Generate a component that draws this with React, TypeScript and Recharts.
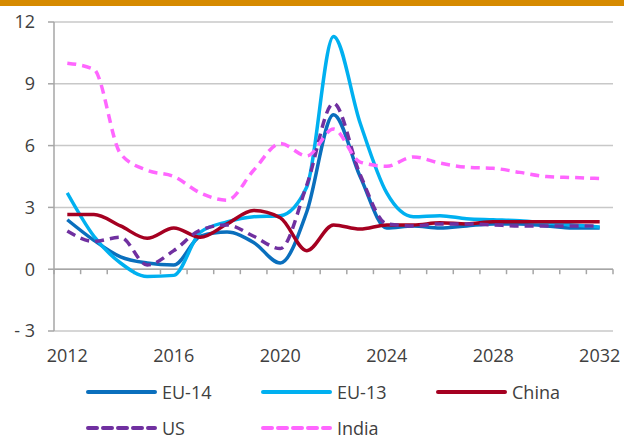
import { LineChart, Line, XAxis, YAxis, CartesianGrid, ReferenceLine } from "recharts";

const years = [2012, 2013, 2014, 2015, 2016, 2017, 2018, 2019, 2020, 2021, 2022, 2023, 2024, 2025, 2026, 2027, 2028, 2029, 2030, 2031, 2032];

const eu14 = [2.4, 1.4, 0.6, 0.3, 0.2, 1.6, 1.8, 1.3, 0.3, 2.8, 7.5, 4.5, 2.0, 2.1, 2.0, 2.1, 2.2, 2.2, 2.1, 2.0, 2.0];
const eu13 = [3.7, 1.6, 0.3, -0.35, -0.3, 1.8, 2.3, 2.55, 2.6, 4.0, 11.3, 7.1, 3.7, 2.55, 2.6, 2.45, 2.4, 2.35, 2.25, 2.15, 2.05];
const china = [2.65, 2.65, 2.1, 1.5, 2.0, 1.55, 2.2, 2.85, 2.5, 0.9, 2.15, 1.95, 2.15, 2.15, 2.25, 2.2, 2.3, 2.3, 2.3, 2.3, 2.3];
const us = [1.85, 1.35, 1.55, 0.2, 0.9, 1.9, 2.15, 1.6, 1.0, 4.1, 8.05, 4.6, 2.2, 2.1, 2.2, 2.2, 2.15, 2.1, 2.1, 2.1, 2.1];
const india = [10.0, 9.7, 5.6, 4.8, 4.5, 3.7, 3.35, 4.8, 6.1, 5.5, 6.8, 5.2, 5.0, 5.45, 5.15, 4.95, 4.9, 4.7, 4.5, 4.45, 4.4];

const yTicks = [-3, 0, 3, 6, 9, 12];

const series = [
  { key: "eu14", name: "EU-14", color: "#0A6FBD", dash: undefined as string | undefined },
  { key: "eu13", name: "EU-13", color: "#00B0F0", dash: undefined as string | undefined },
  { key: "china", name: "China", color: "#A50021", dash: undefined as string | undefined },
  { key: "us", name: "US", color: "#7030A0", dash: "9 6" },
  { key: "india", name: "India", color: "#FF66FF", dash: "9 6" },
];

const data = years.map((year, i) => ({
  year,
  eu14: eu14[i],
  eu13: eu13[i],
  china: china[i],
  us: us[i],
  india: india[i],
}));

const font = "'Open Sans', sans-serif";
const textColor = "#404040";

// axis line at zero with tick marks between categories (Excel style)
const ZeroAxis = (props: any) => {
  const { x1, y1, x2 } = props;
  const n = years.length;
  const step = (x2 - x1) / n;
  const marks = [];
  for (let k = 0; k <= n; k++) {
    const x = x1 + k * step;
    marks.push(<line key={k} x1={x} x2={x} y1={y1} y2={y1 + 5} stroke="#A6A6A6" strokeWidth={1.5} />);
  }
  return (
    <g>
      <line x1={x1} x2={x2} y1={y1} y2={y1} stroke="#A6A6A6" strokeWidth={1.5} />
      {marks}
    </g>
  );
};

const LegendBox = () => (
  <div style={{ position: "absolute", left: 86, top: 380, width: 540, fontFamily: font, fontSize: 18, color: textColor }}>
    {series.map((s, i) => (
      <div
        key={s.key}
        style={{
          position: "absolute",
          left: (i % 3) * 175,
          top: Math.floor(i / 3) * 36,
          display: "flex",
          alignItems: "center",
          height: 24,
        }}
      >
        <svg width={72} height={24}>
          <line x1={2} x2={69} y1={12} y2={12} stroke={s.color} strokeWidth={4} strokeDasharray={s.dash} strokeLinecap="round" />
        </svg>
        <span style={{ marginLeft: 4 }}>{s.name}</span>
      </div>
    ))}
  </div>
);

export default function App() {
  return (
    <div style={{ position: "absolute", left: 0, top: 0, width: 624, height: 439, background: "#fff", overflow: "hidden" }}>
      <div style={{ position: "absolute", left: 0, top: 0, width: 624, height: 6, background: "#D68A00" }} />
      <LineChart width={624} height={368} data={data} margin={{ top: 22, right: 11, left: 0, bottom: 0 }}>
        <CartesianGrid vertical={false} stroke="#C8C8C8" strokeWidth={1.5} />
        <XAxis
          dataKey="year"
          scale="band"
          interval={3}
          axisLine={false}
          tickLine={false}
          height={37}
          tickMargin={12}
          tick={{ fill: textColor, fontSize: 18, fontFamily: font }}
        />
        <YAxis
          domain={[-3, 12]}
          ticks={yTicks}
          interval={0}
          width={54}
          tickSize={6}
          tickMargin={13}
          axisLine={{ stroke: "#A6A6A6", strokeWidth: 1.5 }}
          tickLine={{ stroke: "#A6A6A6", strokeWidth: 1.5 }}
          tickFormatter={(v: number) => (v < 0 ? "- " + Math.abs(v) : String(v))}
          tick={{ fill: textColor, fontSize: 18, fontFamily: font }}
        />
        <ReferenceLine y={0} shape={ZeroAxis} />
        {series.map((s) => (
          <Line
            key={s.key}
            type="monotone"
            dataKey={s.key}
            name={s.name}
            stroke={s.color}
            strokeWidth={3.5}
            strokeDasharray={s.dash}
            dot={false}
            activeDot={false}
            isAnimationActive={false}
          />
        ))}
      </LineChart>
      <LegendBox />
    </div>
  );
}
